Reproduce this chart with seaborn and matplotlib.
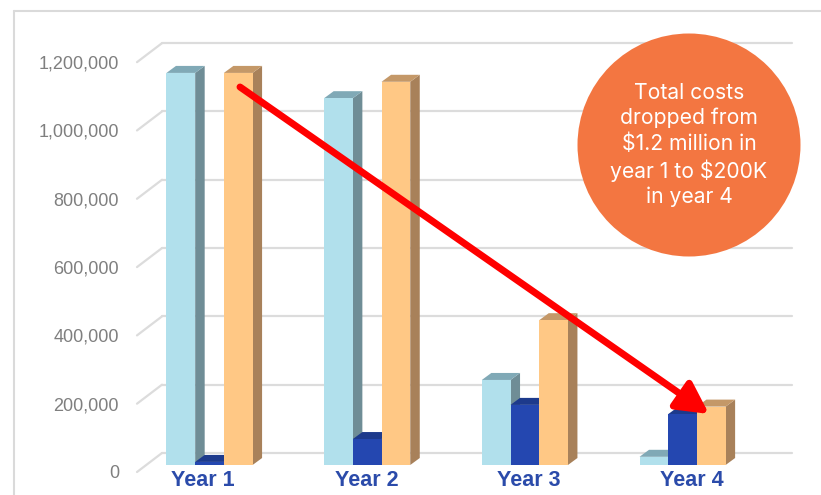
import pandas as pd
import matplotlib
matplotlib.use("Agg")
import matplotlib.pyplot as plt
import seaborn as sns
from matplotlib.patches import Polygon, Ellipse, ArrowStyle
from matplotlib.lines import Line2D
from matplotlib.transforms import ScaledTranslation

# Datos
years = ["Year 1", "Year 2", "Year 3", "Year 4"]
series = ["Cost A", "Cost B", "Total"]
cost_a = [1148000, 1074000, 249000, 24000]
cost_b = [9000, 76000, 176000, 149000]
total = [1148000, 1122000, 424000, 171000]
yticks = [0, 200000, 400000, 600000, 800000, 1000000, 1200000]
note = "Total costs\ndropped from\n$1.2 million in\nyear 1 to $200K\nin year 4"

# colores: frente, lado, arriba
front = ["#B1E0EC", "#2447B0", "#FFC885"]
side = ["#6F8D96", "#1B3483", "#A8815A"]
top = ["#80A9B6", "#1D3A8C", "#C49868"]

df = pd.DataFrame({
    "year": years * 3,
    "series": [s for s in series for _ in years],
    "value": cost_a + cost_b + total,
})

sns.set_style("white")
plt.rcParams["font.family"] = ["Liberation Sans", "DejaVu Sans"]

W, H = 821, 495
fig = plt.figure(figsize=(W / 100, H / 100), dpi=100)
ax_l, ax_r, ax_b, ax_t = 137, 792, 30, 474
ax = fig.add_axes([ax_l / W, ax_b / H, (ax_r - ax_l) / W, (ax_t - ax_b) / H])

sns.barplot(data=df, x="year", y="value", hue="series", palette=front,
            width=0.546, saturation=1, errorbar=None, legend=False,
            linewidth=0, ax=ax)

xmin, xmax = -0.46, 3.694
ymin, ymax = 0, 1300000
ax.set_xlim(xmin, xmax)
ax.set_ylim(ymin, ymax)
ux = (xmax - xmin) / (ax_r - ax_l)  # unidades por pixel
uy = (ymax - ymin) / (ax_t - ax_b)

# efecto 3D en las barras
dx, dy = 9.5 * ux, 7 * uy
bars = [p for p in ax.patches]
for i, p in enumerate(bars):
    k = i // len(years)
    x0, y0 = p.get_xy()
    w, h = p.get_width(), p.get_height()
    p.set_zorder(2 + 0.1 * k + 0.05)
    ax.add_patch(Polygon([(x0 + w, y0), (x0 + w + dx, y0 + dy), (x0 + w + dx, y0 + h + dy), (x0 + w, y0 + h)],
                         closed=True, facecolor=side[k], edgecolor="none", zorder=2 + 0.1 * k))
    ax.add_patch(Polygon([(x0, y0 + h), (x0 + dx, y0 + h + dy), (x0 + w + dx, y0 + h + dy), (x0 + w, y0 + h)],
                         closed=True, facecolor=top[k], edgecolor="none", zorder=2 + 0.1 * k))

# rejilla de fondo con perspectiva
back_x = xmin + 25 * ux
for v in yticks:
    yb = v + 12 * uy
    yf = v - 7 * uy
    ax.plot([back_x, xmax], [yb, yb], color="#DCDCDC", lw=1.6, zorder=1, clip_on=False)
    ax.plot([xmin, back_x], [yf, yb], color="#DCDCDC", lw=1.6, zorder=1, clip_on=False)

ax.set_yticks(yticks)
ax.set_yticklabels([f"{v:,}" for v in yticks])
ax.tick_params(axis="y", length=0, pad=13, labelsize=13, labelcolor="#7F7F7F")
ax.tick_params(axis="x", length=0, pad=3.6)
for lbl in ax.get_yticklabels():
    lbl.set_transform(lbl.get_transform() + ScaledTranslation(0, -7 / 100, fig.dpi_scale_trans))
# etiquetas de los anios un poco desplazadas como en la grafica 3D
shift_px = [-7, 0, 4, 9]
for lbl, s in zip(ax.get_xticklabels(), shift_px):
    lbl.set_fontsize(15.5)
    lbl.set_fontweight("bold")
    lbl.set_color("#2B4BAA")
    lbl.set_transform(lbl.get_transform() + ScaledTranslation(s / 100, 0, fig.dpi_scale_trans))
ax.set_xlabel("")
ax.set_ylabel("")
sns.despine(ax=ax, left=True, bottom=True)

# borde del contenedor
fig.add_artist(Line2D([14 / W, 14 / W], [0, 1 - 11 / H], color="#DADADA", lw=1.5))
fig.add_artist(Line2D([14 / W, 1], [1 - 11 / H, 1 - 11 / H], color="#DADADA", lw=1.5))

# flecha roja
ax.annotate("", xy=(709, H - 414), xycoords="figure pixels",
            xytext=(240, H - 87), textcoords="figure pixels",
            arrowprops=dict(arrowstyle=ArrowStyle("-|>", head_length=1.9, head_width=1.0),
                            color="#FF0000", lw=5, shrinkA=0, shrinkB=0, mutation_scale=10,
                            joinstyle="round"),
            zorder=10)

# circulo con nota
fig.add_artist(Ellipse((689 / W, 1 - 145 / H), 223 / W, 223 / H,
                       facecolor="#F37641", edgecolor="none", zorder=11))
fig.text(689 / W, 1 - 145 / H, note, ha="center", va="center", color="white",
         fontsize=15.2, family=["Inter", "DejaVu Sans"], linespacing=1.3, zorder=12)

fig.savefig("out.png", dpi=100)
